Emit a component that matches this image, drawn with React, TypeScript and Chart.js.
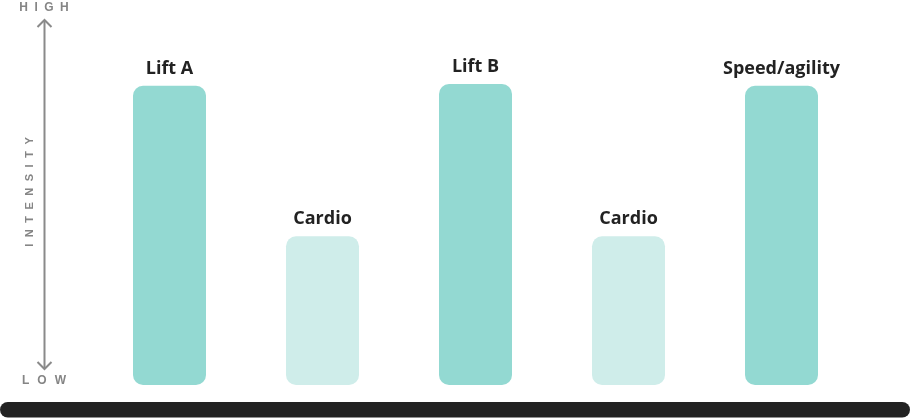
import React, { useEffect, useRef } from "react";
import { Chart, registerables } from "chart.js";

Chart.register(...registerables);

const categories = ["Lift A", "Cardio", "Lift B", "Cardio", "Speed/agility"];
const intensity = [8.55, 4.25, 8.6, 4.25, 8.55];
const barColors = ["#93d9d2", "#cfedea", "#93d9d2", "#cfedea", "#93d9d2"];
const axisTop = "HIGH";
const axisBottom = "LOW";
const axisTitle = "INTENSITY";

function spacedText(ctx: CanvasRenderingContext2D, text: string, cx: number, cy: number, spacing: number) {
  const widths = text.split("").map((c) => ctx.measureText(c).width);
  const total = widths.reduce((a, b) => a + b, 0) + spacing * (text.length - 1);
  let x = cx - total / 2;
  ctx.textAlign = "left";
  ctx.textBaseline = "middle";
  text.split("").forEach((c, i) => {
    ctx.fillText(c, x, cy);
    x += widths[i] + spacing;
  });
}

const decorPlugin = {
  id: "decor",
  afterDraw(chart: any) {
    const ctx: CanvasRenderingContext2D = chart.ctx;
    ctx.save();
    // labels above bars
    const meta = chart.getDatasetMeta(0);
    ctx.fillStyle = "#222222";
    ctx.font = "bold 18px 'Open Sans', sans-serif";
    ctx.textAlign = "center";
    ctx.textBaseline = "middle";
    meta.data.forEach((el: any, i: number) => {
      ctx.fillText(categories[i], el.x, el.y - 17);
    });
    // axis arrow
    const ax = 44.5;
    ctx.strokeStyle = "#8a8a8a";
    ctx.lineWidth = 2;
    ctx.beginPath();
    ctx.moveTo(ax, 20);
    ctx.lineTo(ax, 369);
    ctx.stroke();
    ctx.beginPath();
    ctx.moveTo(ax - 7, 27);
    ctx.lineTo(ax, 20);
    ctx.lineTo(ax + 7, 27);
    ctx.stroke();
    ctx.beginPath();
    ctx.moveTo(ax - 7, 362);
    ctx.lineTo(ax, 369);
    ctx.lineTo(ax + 7, 362);
    ctx.stroke();
    // axis words
    ctx.fillStyle = "#858585";
    ctx.font = "bold 12px 'Liberation Sans', Arial, sans-serif";
    spacedText(ctx, axisTop, 44, 8, 6.5);
    spacedText(ctx, axisBottom, 44, 381, 8);
    ctx.save();
    ctx.translate(30, 192);
    ctx.rotate(-Math.PI / 2);
    ctx.font = "bold 11px 'Liberation Sans', Arial, sans-serif";
    spacedText(ctx, axisTitle, 0, 0, 6.5);
    ctx.restore();
    // bottom dark bar
    ctx.fillStyle = "#222222";
    ctx.beginPath();
    (ctx as any).roundRect(0, 402, 910, 15.5, 7.75);
    ctx.fill();
    ctx.restore();
  },
};

export default function App() {
  const ref = useRef<HTMLCanvasElement>(null);
  useEffect(() => {
    if (!ref.current) return;
    const chart = new Chart(ref.current, {
      type: "bar",
      data: {
        labels: categories,
        datasets: [
          {
            data: intensity,
            backgroundColor: barColors,
            borderRadius: 10,
            borderSkipped: false,
            barPercentage: 1,
            categoryPercentage: 73 / 153,
          },
        ],
      },
      options: {
        responsive: false,
        animation: false,
        layout: { padding: { left: 93, right: 53, top: 35, bottom: 33 } },
        plugins: { legend: { display: false }, tooltip: { enabled: false } },
        scales: {
          x: { display: false },
          y: { display: false, min: 0, max: 10 },
        },
      },
      plugins: [decorPlugin],
    });
    return () => chart.destroy();
  }, []);
  return (
    <div style={{ position: "fixed", left: 0, top: 0, width: 911, height: 418, background: "#fff" }}>
      <canvas ref={ref} width={911} height={418} style={{ display: "block" }} />
    </div>
  );
}
